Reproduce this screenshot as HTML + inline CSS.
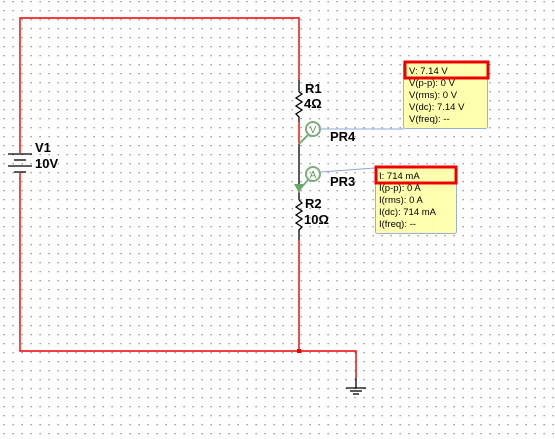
<!DOCTYPE html>
<html><head><style>
body{margin:0;background:#fff;}
svg{display:block;font-family:"Liberation Sans",sans-serif;}
</style></head><body>
<svg width="555" height="439" viewBox="0 0 555 439" xmlns="http://www.w3.org/2000/svg">
<defs>
<pattern id="g" x="3.5" y="1" width="9" height="9" patternUnits="userSpaceOnUse">
<rect x="0" y="0" width="1.3" height="1.3" fill="#888"/>
</pattern>
</defs>
<rect width="555" height="439" fill="#fff"/>
<rect width="555" height="439" fill="url(#g)"/>
<g stroke="#e00" stroke-width="1.4" fill="none">
<polyline points="20,153 20,18 299,18 299,80"/>
<polyline points="20,173 20,351 356,351 356,378"/>
<line x1="299" y1="122" x2="299" y2="143"/>
<line x1="299" y1="240" x2="299" y2="351"/>
</g>
<rect x="297" y="349" width="4" height="4" fill="#e00"/>
<g stroke="#000" stroke-width="1.3" fill="none">
<line x1="8" y1="154" x2="32" y2="154"/>
<line x1="14" y1="160" x2="26" y2="160"/>
<line x1="8" y1="166" x2="32" y2="166"/>
<line x1="14" y1="172" x2="26" y2="172"/>
<line x1="299" y1="80" x2="299" y2="92"/>
<polyline points="299,92 302,94 296,98 302,102 296,106 302,110 296,114 299,117 299,122"/>
<line x1="299" y1="143" x2="299" y2="200"/>
<polyline points="299,200 302,203 296,207 302,211 296,215 302,219 296,223 302,227 299,230 299,240"/>
<line x1="356" y1="378" x2="356" y2="388"/>
<line x1="346" y1="388" x2="366" y2="388"/>
<line x1="350" y1="391" x2="362" y2="391"/>
<line x1="353" y1="394" x2="359" y2="394"/>
</g>
<g font-size="13" font-weight="bold" fill="#000">
<text x="35" y="152">V1</text><text x="35" y="168">10V</text>
<text x="305" y="93">R1</text><text x="304" y="108">4Ω</text>
<text x="330" y="141">PR4</text><text x="330" y="186">PR3</text>
<text x="305" y="208">R2</text><text x="304" y="224">10Ω</text>
</g>
<g stroke="#7aae7a" fill="none" stroke-width="2">
<circle cx="313" cy="129" r="7"/>
<line x1="308" y1="135" x2="299" y2="144"/>
<circle cx="313" cy="174" r="7"/>
<line x1="308" y1="180" x2="299" y2="190"/>
</g>
<polygon points="294,184 304,184 299,193" fill="#6aa86a"/>
<text x="313" y="133" font-size="10" fill="#5a9a5a" text-anchor="middle">V</text>
<text x="313" y="178" font-size="10" fill="#5a9a5a" text-anchor="middle">A</text>
<g stroke="#8fa5d8" stroke-width="1" fill="none">
<line x1="320" y1="129" x2="404" y2="129"/>
<line x1="320" y1="172" x2="375" y2="168"/>
</g>
<rect x="403.5" y="62.5" width="84" height="66" rx="2" fill="#ffffb0" stroke="#9bb0d8"/>
<rect x="375.5" y="167.5" width="81" height="66" rx="2" fill="#ffffb0" stroke="#9bb0d8"/>
<g font-size="9.5" fill="#000">
<text x="409" y="74">V: 7.14 V</text>
<text x="409" y="86">V(p-p): 0 V</text>
<text x="409" y="98">V(rms): 0 V</text>
<text x="409" y="110">V(dc): 7.14 V</text>
<text x="409" y="122">V(freq): --</text>
<text x="379" y="179">I: 714 mA</text>
<text x="379" y="191">I(p-p): 0 A</text>
<text x="379" y="203">I(rms): 0 A</text>
<text x="379" y="215">I(dc): 714 mA</text>
<text x="379" y="227">I(freq): --</text>
</g>
<rect x="405" y="62" width="83" height="16" fill="none" stroke="#e00" stroke-width="3"/>
<rect x="376" y="167" width="80" height="16" fill="none" stroke="#e00" stroke-width="3"/>
</svg>
</body></html>
